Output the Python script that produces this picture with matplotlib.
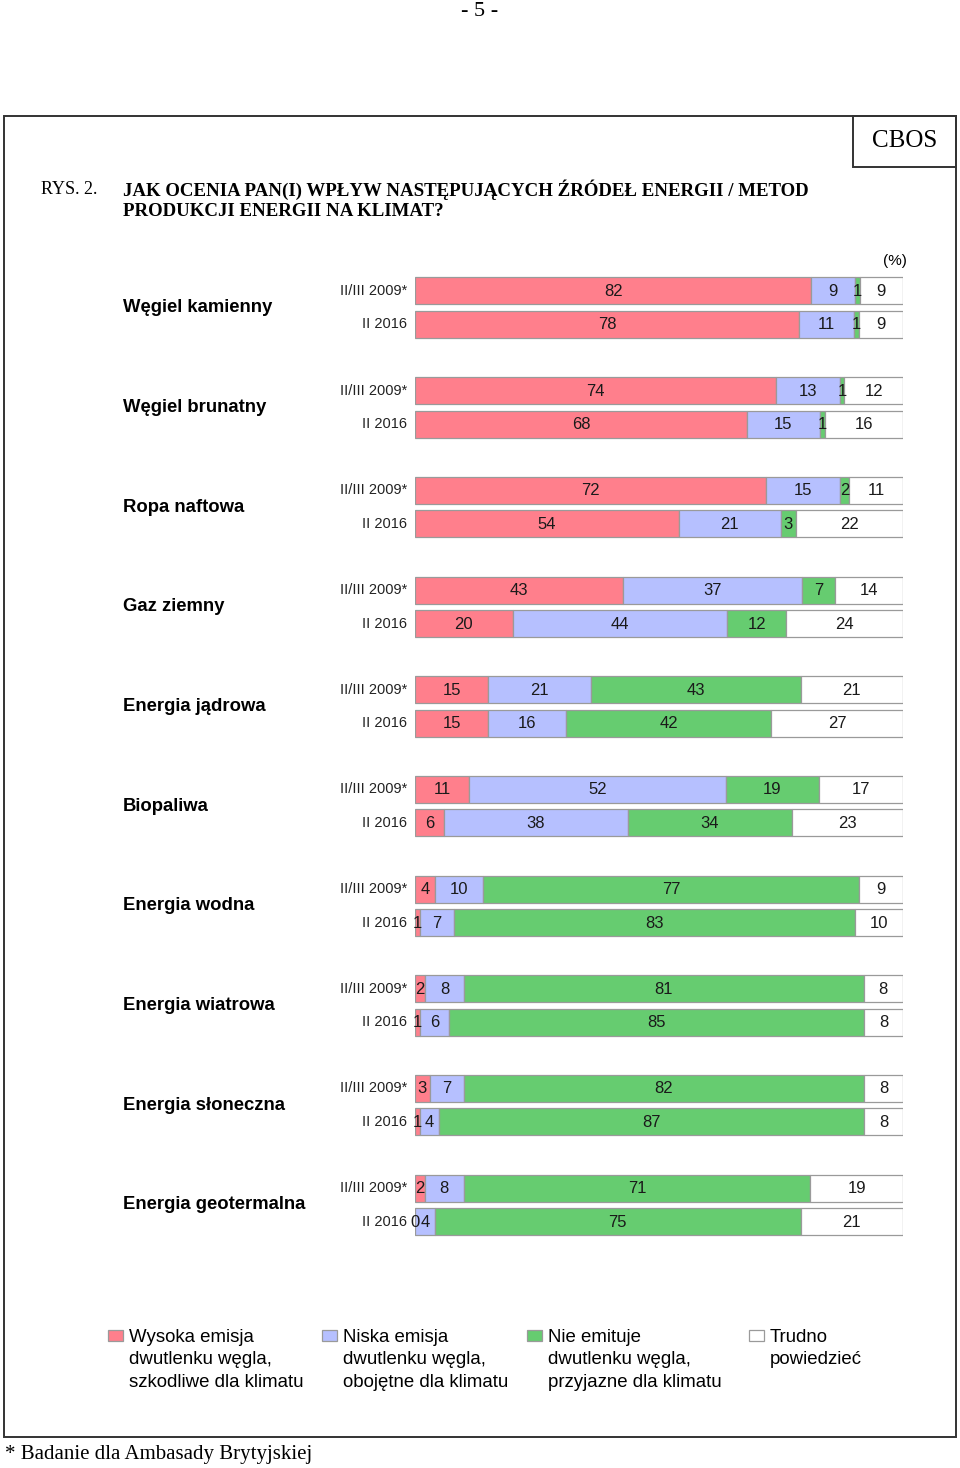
import numpy as np
import matplotlib.pyplot as plt
from matplotlib.patches import Rectangle

# ---- data ----
categories = ["Węgiel kamienny", "Węgiel brunatny", "Ropa naftowa", "Gaz ziemny",
              "Energia jądrowa", "Biopaliwa", "Energia wodna", "Energia wiatrowa",
              "Energia słoneczna", "Energia geotermalna"]
periods = ["II/III 2009*", "II 2016"]
# [wysoka emisja, niska emisja, nie emituje, trudno powiedziec]
v2009 = [[82, 9, 1, 9], [74, 13, 1, 12], [72, 15, 2, 11], [43, 37, 7, 14],
         [15, 21, 43, 21], [11, 52, 19, 17], [4, 10, 77, 9], [2, 8, 81, 8],
         [3, 7, 82, 8], [2, 8, 71, 19]]
v2016 = [[78, 11, 1, 9], [68, 15, 1, 16], [54, 21, 3, 22], [20, 44, 12, 24],
         [15, 16, 42, 27], [6, 38, 34, 23], [1, 7, 83, 10], [1, 6, 85, 8],
         [1, 4, 87, 8], [0, 4, 75, 21]]
legend_labels = ["Wysoka emisja\ndwutlenku węgla,\nszkodliwe dla klimatu",
                 "Niska emisja\ndwutlenku węgla,\nobojętne dla klimatu",
                 "Nie emituje\ndwutlenku węgla,\nprzyjazne dla klimatu",
                 "Trudno\npowiedzieć"]
colors = ["#FF7F8C", "#B6C0FF", "#66CC70", "#FFFFFF"]

W, H = 960, 1468
fig = plt.figure(figsize=(W / 100, H / 100), dpi=100)

# overlay in pixel coordinates for the page decorations
bg = fig.add_axes([0, 0, 1, 1])
bg.set_xlim(0, W)
bg.set_ylim(H, 0)
bg.axis("off")

serif = "Liberation Serif"
sans = "Liberation Sans"

bg.text(480, 11, "- 5 -", ha="center", va="center", family=serif, fontsize=16)
bg.add_patch(Rectangle((4, 116), 952, 1321, fill=False, lw=1.4, ec="#333333"))
bg.add_patch(Rectangle((853, 116), 103, 51, fill=False, lw=1.4, ec="#333333"))
bg.text(905, 141, "CBOS", ha="center", va="center", family=serif, fontsize=18)
bg.text(41, 190, "RYS. 2.", ha="left", va="center", family=serif, fontsize=13)
bg.text(123, 190, "JAK OCENIA PAN(I) WPŁYW NASTĘPUJĄCYCH ŹRÓDEŁ ENERGII / METOD",
        ha="left", va="center", family=serif, fontsize=13.6, weight="bold")
bg.text(123, 211, "PRODUKCJI ENERGII NA KLIMAT?",
        ha="left", va="center", family=serif, fontsize=13.6, weight="bold")
bg.text(895, 261, "(%)", ha="center", va="center", family=sans, fontsize=11)
bg.text(5, 1454, "* Badanie dla Ambasady Brytyjskiej", ha="left", va="center",
        family=serif, fontsize=15)

# bar axes: x in percent, y in page pixels
x0, x1 = 415, 903
ytop, ybot = 270, 1240
ax = fig.add_axes([x0 / W, (H - ybot) / H, (x1 - x0) / W, (ybot - ytop) / H])
ax.set_xlim(0, 100)
ax.set_ylim(ybot, ytop)
ax.axis("off")

step = 99.67
bar_h = 27
for i, cat in enumerate(categories):
    yc = [291 + step * i, 324.5 + step * i]
    bg.text(123, (yc[0] + yc[1]) / 2, cat, ha="left", va="center", family=sans,
            fontsize=13.3, weight="bold")
    for j, vals in enumerate([v2009[i], v2016[i]]):
        bg.text(407, yc[j], periods[j], ha="right", va="center", family=sans,
                fontsize=10.5, color="#222222")
        vals = np.array(vals, dtype=float)
        pct = vals / vals.sum() * 100
        left = 0
        for k, p in enumerate(pct):
            ax.barh(yc[j], p, left=left, height=bar_h, color=colors[k],
                    edgecolor="#9A9A9A", linewidth=0.9)
            ax.text(left + p / 2, yc[j] + 0.5, str(int(vals[k])), ha="center",
                    va="center", family=sans, fontsize=12, color="#1a1a1a")
            left += p

# legend
leg_x = [108, 322, 527, 749]
for k, lab in enumerate(legend_labels):
    bg.add_patch(Rectangle((leg_x[k], 1330), 15, 11, facecolor=colors[k],
                           edgecolor="#9A9A9A", lw=0.9))
    bg.text(leg_x[k] + 21, 1329, lab, ha="left", va="top", family=sans,
            fontsize=13.4, linespacing=1.41)

fig.savefig("out.png", dpi=100)
